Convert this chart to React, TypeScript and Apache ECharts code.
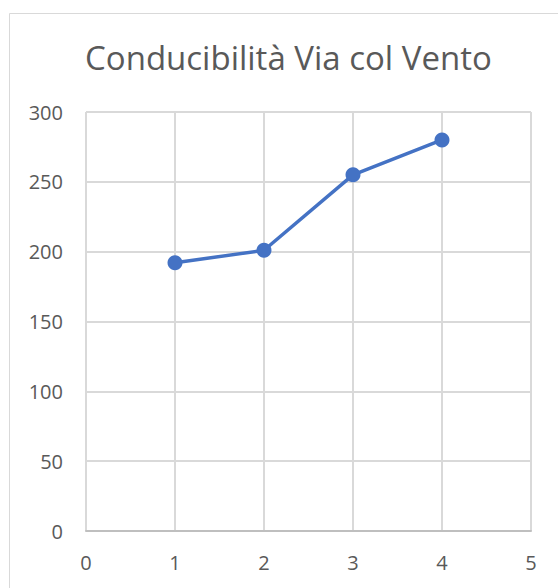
import React, { useEffect, useRef } from "react";
import * as echarts from "echarts";

const titleText = "Conducibilità Via col Vento";
const xValues = [1, 2, 3, 4];
const yValues = [192, 201, 255, 280];

export default function App() {
  const ref = useRef<HTMLDivElement>(null);
  useEffect(() => {
    if (!ref.current) return;
    const chart = echarts.init(ref.current, null, { renderer: "svg" });
    const font = "'Open Sans', sans-serif";
    chart.setOption({
      animation: false,
      backgroundColor: "#ffffff",
      title: {
        text: titleText,
        left: 80,
        top: 36,
        textStyle: { color: "#595959", fontSize: 33, fontWeight: "normal", fontFamily: font },
      },
      graphic: [
        {
          type: "rect",
          shape: { x: 9.5, y: 13.5, width: 700, height: 700 },
          style: { fill: "none", stroke: "#d9d9d9", lineWidth: 1 },
          silent: true,
        },
      ],
      grid: { left: 86, top: 112, right: 27, bottom: 57, containLabel: false },
      xAxis: {
        type: "value",
        min: 0,
        max: 5,
        interval: 1,
        axisLine: { show: true, lineStyle: { color: "#bfbfbf", width: 2 } },
        axisTick: { show: false },
        axisLabel: { color: "#595959", fontSize: 20, fontFamily: font, margin: 21 },
        splitLine: { show: true, lineStyle: { color: "#d9d9d9", width: 2 } },
      },
      yAxis: {
        type: "value",
        min: 0,
        max: 300,
        interval: 50,
        axisLine: { show: false },
        axisTick: { show: false },
        axisLabel: { color: "#595959", fontSize: 20, fontFamily: font, margin: 23 },
        splitLine: { show: true, lineStyle: { color: "#d9d9d9", width: 2 } },
      },
      series: [
        {
          type: "line",
          data: xValues.map((x, i) => [x, yValues[i]]),
          symbol: "circle",
          symbolSize: 15,
          lineStyle: { color: "#4472c4", width: 3.5 },
          itemStyle: { color: "#4472c4" },
        },
      ],
    });
    return () => chart.dispose();
  }, []);
  return (
    <div
      ref={ref}
      style={{ position: "fixed", left: 0, top: 0, width: 558, height: 588 }}
    />
  );
}
